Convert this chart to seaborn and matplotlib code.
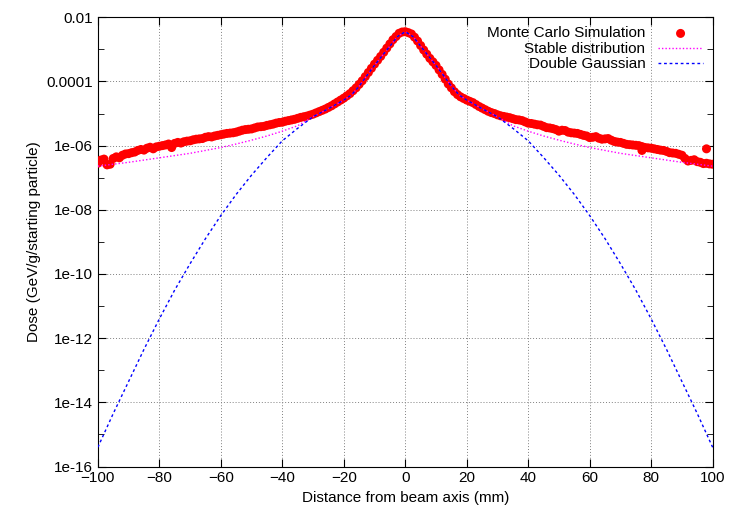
import numpy as np
import pandas as pd
import seaborn as sns
import matplotlib
matplotlib.use("Agg")
from matplotlib import pyplot as plt
from matplotlib.ticker import FixedLocator, NullFormatter

# Monte Carlo points (log10 of dose)
mc_x = list(range(-100, 101, 2)) + [77, 98]
mc_log = [-6.55, -6.42, -6.58, -6.35, -6.30, -6.25, -6.20, -6.12, -6.08, -6.10,
          -6.02, -5.98, -6.06, -5.90, -5.88, -5.85, -5.80, -5.78, -5.72, -5.70,
          -5.66, -5.62, -5.60, -5.55, -5.50, -5.48, -5.42, -5.40, -5.35, -5.30,
          -5.27, -5.22, -5.18, -5.12, -5.08, -5.02, -4.94, -4.86, -4.76, -4.64,
          -4.52, -4.38, -4.20, -3.98, -3.72, -3.46, -3.22, -2.96, -2.70, -2.50,
          -2.45, -2.52, -2.74, -3.02, -3.28, -3.50, -3.78, -4.08, -4.32, -4.48,
          -4.58, -4.66, -4.78, -4.88, -4.97, -5.04, -5.09, -5.13, -5.19, -5.22,
          -5.30, -5.33, -5.36, -5.44, -5.47, -5.55, -5.53, -5.60, -5.62, -5.68,
          -5.75, -5.72, -5.80, -5.78, -5.87, -5.90, -5.96, -5.98, -6.00, -6.06,
          -6.08, -6.12, -6.15, -6.22, -6.24, -6.30, -6.48, -6.44, -6.52, -6.55,
          -6.58, -6.15, -6.10]
# extra points at odd mm, dense part of the profile
mc_x_odd = list(range(-99, 100, 2))
mc_log_odd = [-6.45, -6.60, -6.40, -6.38, -6.26, -6.22, -6.15, -6.14, -6.05, -6.04,
              -6.00, -5.95, -5.93, -5.92, -5.86, -5.82, -5.79, -5.74, -5.73, -5.68,
              -5.64, -5.61, -5.58, -5.52, -5.49, -5.45, -5.41, -5.37, -5.33, -5.28,
              -5.24, -5.20, -5.15, -5.10, -5.05, -4.98, -4.90, -4.81, -4.70, -4.58,
              -4.45, -4.29, -4.09, -3.85, -3.59, -3.34, -3.09, -2.83, -2.60, -2.46,
              -2.48, -2.62, -2.88, -3.15, -3.39, -3.64, -3.93, -4.20, -4.41, -4.53,
              -4.62, -4.72, -4.83, -4.93, -5.00, -5.07, -5.11, -5.16, -5.20, -5.26,
              -5.31, -5.35, -5.40, -5.45, -5.50, -5.52, -5.58, -5.61, -5.65, -5.70,
              -5.74, -5.77, -5.79, -5.83, -5.89, -5.93, -5.97, -5.99, -6.03, -6.07,
              -6.10, -6.14, -6.18, -6.23, -6.27, -6.40, -6.46, -6.50, -6.56, -6.57]

# fitted curves, right half (symmetric about 0)
fit_x = [0, 2.5, 5, 7.5, 10, 12.5, 15, 17.5, 20, 25, 30, 35, 40, 45, 50,
         55, 60, 65, 70, 75, 80, 85, 90, 95, 100]
gauss_log = [-2.45, -2.6, -2.9, -3.2, -3.5, -3.82, -4.15, -4.42, -4.58, -4.85,
             -5.1, -5.46, -5.85, -6.37, -6.92, -7.52, -8.18, -8.9, -9.68, -10.5,
             -11.4, -12.35, -13.35, -14.35, -15.4]
stable_log = [-2.45, -2.6, -2.9, -3.2, -3.5, -3.82, -4.15, -4.42, -4.58, -4.85,
              -5.1, -5.38, -5.55, -5.7, -5.83, -5.95, -6.06, -6.15, -6.24, -6.31,
              -6.38, -6.45, -6.52, -6.58, -6.64]

mc = pd.DataFrame({"x": mc_x + mc_x_odd,
                   "dose": 10.0 ** np.array(mc_log + mc_log_odd)})
xs = [-v for v in fit_x[:0:-1]] + fit_x
fits = pd.DataFrame({
    "x": xs,
    "stable": 10.0 ** np.array(stable_log[:0:-1] + stable_log),
    "gauss": 10.0 ** np.array(gauss_log[:0:-1] + gauss_log),
})

plt.rcParams["font.family"] = "Liberation Sans"
plt.rcParams["font.size"] = 11
fig = plt.figure(figsize=(7.47, 5.23), dpi=100)
ax = fig.add_axes([0.131, 0.108, 0.823, 0.859])

sns.scatterplot(data=mc, x="x", y="dose", ax=ax, color="red", s=42,
                edgecolor="none", label="Monte Carlo Simulation", zorder=3)
sns.lineplot(data=fits, x="x", y="stable", ax=ax, color="magenta", lw=1,
             linestyle=(0, (1, 1.5)), label="Stable distribution", zorder=4)
sns.lineplot(data=fits, x="x", y="gauss", ax=ax, color="blue", lw=1,
             linestyle=(0, (2, 2)), label="Double Gaussian", zorder=5)

ax.set_yscale("log")
ax.set_xlim(-100, 100)
ax.set_ylim(1e-16, 1e-2)
ax.set_xticks(range(-100, 101, 20))
ax.set_yticks([10.0 ** e for e in range(-16, -1, 2)])
ax.set_yticklabels(["1e-16", "1e-14", "1e-12", "1e-10", "1e-08", "1e-06", "0.0001", "0.01"])
ax.yaxis.set_minor_locator(FixedLocator([10.0 ** e for e in range(-15, -2, 2)]))
ax.yaxis.set_minor_formatter(NullFormatter())
ax.tick_params(direction="in", which="both", top=True, right=True)
ax.tick_params(which="major", length=6)
ax.tick_params(which="minor", length=4)
ax.grid(True, which="major", color="gray", linestyle=(0, (1, 2)), lw=0.7)
ax.set_xlabel("Distance from beam axis (mm)")
ax.set_ylabel("Dose (GeV/g/starting particle)")

leg = ax.legend(loc="upper right", frameon=False, markerfirst=False,
                handlelength=3, borderaxespad=0.2, labelspacing=0.1)
for t in leg.get_texts():
    t.set_ha("right")

fig.savefig("out.png", dpi=100)
